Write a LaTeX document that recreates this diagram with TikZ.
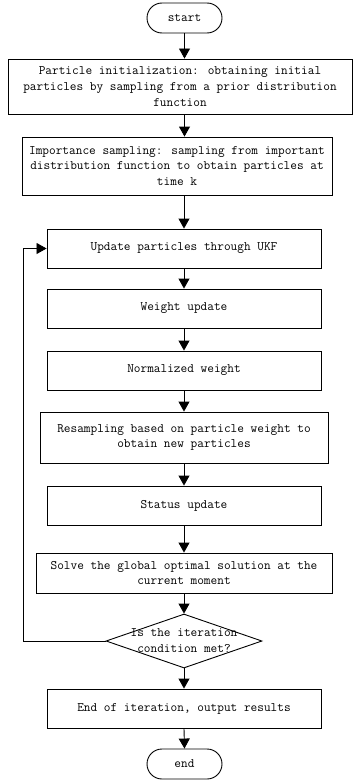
\documentclass[tikz,border=0pt]{standalone}
\usetikzlibrary{arrows.meta,shapes.geometric}
\begin{document}
\begin{tikzpicture}[x=1bp,y=-1bp,
  every node/.style={font=\ttfamily\fontsize{13}{16}\selectfont, align=center, inner sep=0pt},
  box/.style={draw, line width=0.9bp, minimum height=39bp, minimum width=274bp},
  term/.style={draw, line width=0.9bp, rounded corners=15bp, minimum width=75bp, minimum height=30bp},
  decision/.style={draw, diamond, line width=0.9bp, minimum width=156bp, minimum height=54bp, aspect=2.9},
  arr/.style={line width=0.9bp, -{Triangle[width=11bp,length=10bp]}}]
\useasboundingbox (0,0) rectangle (353,780);

% process nodes
\node[term] (start) at (184.5,18) {start};
\node[box, minimum width=344bp, minimum height=55bp] (b1) at (180,86.5)
  {Particle initialization: obtaining initial\\particles by sampling from a prior distribution\\function};
\node[box, minimum width=310bp, minimum height=58bp] (b2) at (177,166)
  {Importance sampling: sampling from important\\distribution function to obtain particles at\\time k};
\node[box] (b3) at (184,248.5) {Update particles through UKF};
\node[box] (b4) at (184,308.5) {Weight update};
\node[box] (b5) at (184,370.5) {Normalized weight};
\node[box, minimum width=288bp, minimum height=51bp] (b6) at (184,437.5)
  {Resampling based on particle weight to\\obtain new particles};
\node[box] (b7) at (184,505.5) {Status update};
\node[box, minimum width=296bp, minimum height=40bp] (b8) at (184,573)
  {Solve the global optimal solution at the\\current moment};
\node[decision] (dia) at (184,641) {};
\node (diatext) at (184,641) {Is the iteration\\condition met?};
\node[box] (b9) at (184,708.5) {End of iteration, output results};
\node[term] (end) at (184.5,764) {end};

% main flow
\draw[arr] (start.south) -- (start.south |- b1.north);
\draw[arr] (start.south |- b1.south) -- (start.south |- b2.north);
\draw[arr] (b3.north |- b2.south) -- (b3.north);
\draw[arr] (b3.south) -- (b4.north);
\draw[arr] (b4.south) -- (b5.north);
\draw[arr] (b5.south) -- (b6.north);
\draw[arr] (b6.south) -- (b7.north);
\draw[arr] (b7.south) -- (b8.north);
\draw[arr] (b8.south) -- (dia.north);
\draw[arr] (dia.south) -- (b9.north);
\draw[arr] (b9.south) -- (end.north);

% feedback loop
\coordinate (loop) at (23,641);
\draw[arr] (dia.west) -- (loop) |- (b3.west);
\end{tikzpicture}
\end{document}
